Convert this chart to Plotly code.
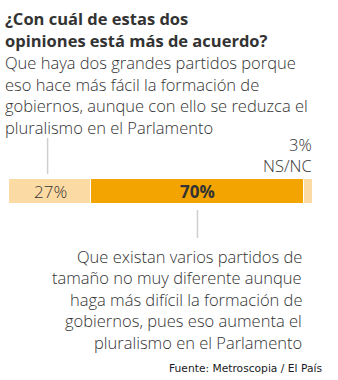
import plotly.graph_objects as go

# Survey answers (percent)
answers = ["Dos grandes partidos", "Varios partidos", "NS/NC"]
shares = [27, 70, 3]
colors = ["#FCDAA3", "#F3A400", "#FCDAA3"]
bold_label = [False, True, False]

title_lines = ["¿Con cuál de estas dos", "opiniones está más de acuerdo?"]
upper_lines = ["Que haya dos grandes partidos porque",
               "eso hace más fácil la formación de",
               "gobiernos, aunque con ello se reduzca el",
               "pluralismo en el Parlamento"]
lower_lines = ["Que existan varios partidos de",
               "tamaño no muy diferente aunque",
               "haga más difícil la formación de",
               "gobiernos, pues eso aumenta el",
               "pluralismo en el Parlamento"]
source = "Fuente: Metroscopia / El País"

W, H = 338, 380
BAR_LEFT, BAR_RIGHT = 9, 313
BAR_TOP, BAR_BOTTOM = 179, 204


def px_x(p):
    return p / W


def px_y(p):
    return 1 - p / H


TEXT = "#333333"
FONT = "Open Sans"
BODY = 16.5
LIGHT = 350

fig = go.Figure()
for name, val, col in zip(answers, shares, colors):
    fig.add_trace(go.Bar(
        y=[0], x=[val], name=name, orientation="h",
        marker=dict(color=col, line=dict(color="white", width=1)),
        hoverinfo="skip",
    ))

total = sum(shares)
centre_first = shares[0] / 2
centre_second = shares[0] + shares[1] / 2

shapes = [
    dict(type="line", xref="x", yref="paper",
         x0=centre_first * 0.94, x1=centre_first * 0.94,
         y0=px_y(138), y1=px_y(174),
         line=dict(color="#cfcfcf", width=1.5)),
    dict(type="line", xref="x", yref="paper",
         x0=centre_second, x1=centre_second,
         y0=px_y(210), y1=px_y(238),
         line=dict(color="#cfcfcf", width=1.5)),
]


def block(lines, x, y_first, step, xanchor, size, color=TEXT,
          family=FONT, weight=LIGHT, bold=False):
    """One annotation per line so the line pitch can be set freely."""
    out = []
    for i, line in enumerate(lines):
        txt = f"<b>{line}</b>" if bold else line
        out.append(dict(text=txt, xref="paper", yref="paper",
                        x=px_x(x), y=px_y(y_first + i * step),
                        xanchor=xanchor, yanchor="middle",
                        align=xanchor, showarrow=False,
                        font=dict(family=family, size=size, color=color,
                                  weight=weight)))
    return out


# Percent labels centred inside each wide enough segment
annotations = []
start = 0
for val, bold in zip(shares, bold_label):
    if val >= 5:
        annotations.append(dict(
            text=f"<b>{val}%</b>" if bold else f"{val}%",
            xref="x", yref="y", x=start + val / 2, y=0,
            xanchor="center", yanchor="middle", showarrow=False,
            font=dict(family=FONT, size=17, color=TEXT,
                      weight=700 if bold else LIGHT)))
    start += val

annotations += block(title_lines, 3, 18, 22, "left", 16.5, color="#333333",
                     weight=700)
annotations += block(upper_lines, 3, 63, 21.5, "left", BODY)
annotations += block([f"{shares[2]}%", answers[2]], 314, 144, 21.5,
                     "right", BODY)
annotations += block(lower_lines, 304, 256, 21.5, "right", BODY)
annotations += block([source], 324, 368, 0, "right", 10.7,
                     color="#1a1a24", family="DejaVu Sans", weight=400)

fig.update_layout(
    width=W, height=H,
    margin=dict(l=0, r=0, t=0, b=0),
    paper_bgcolor="white", plot_bgcolor="white",
    barmode="stack", bargap=0, showlegend=False,
    xaxis=dict(range=[0, total], domain=[px_x(BAR_LEFT), px_x(BAR_RIGHT)],
               visible=False, fixedrange=True),
    yaxis=dict(range=[-0.5, 0.5], domain=[px_y(BAR_BOTTOM), px_y(BAR_TOP)],
               visible=False, fixedrange=True),
    shapes=shapes, annotations=annotations,
)

fig.write_html("out.html", config={"displayModeBar": False})
